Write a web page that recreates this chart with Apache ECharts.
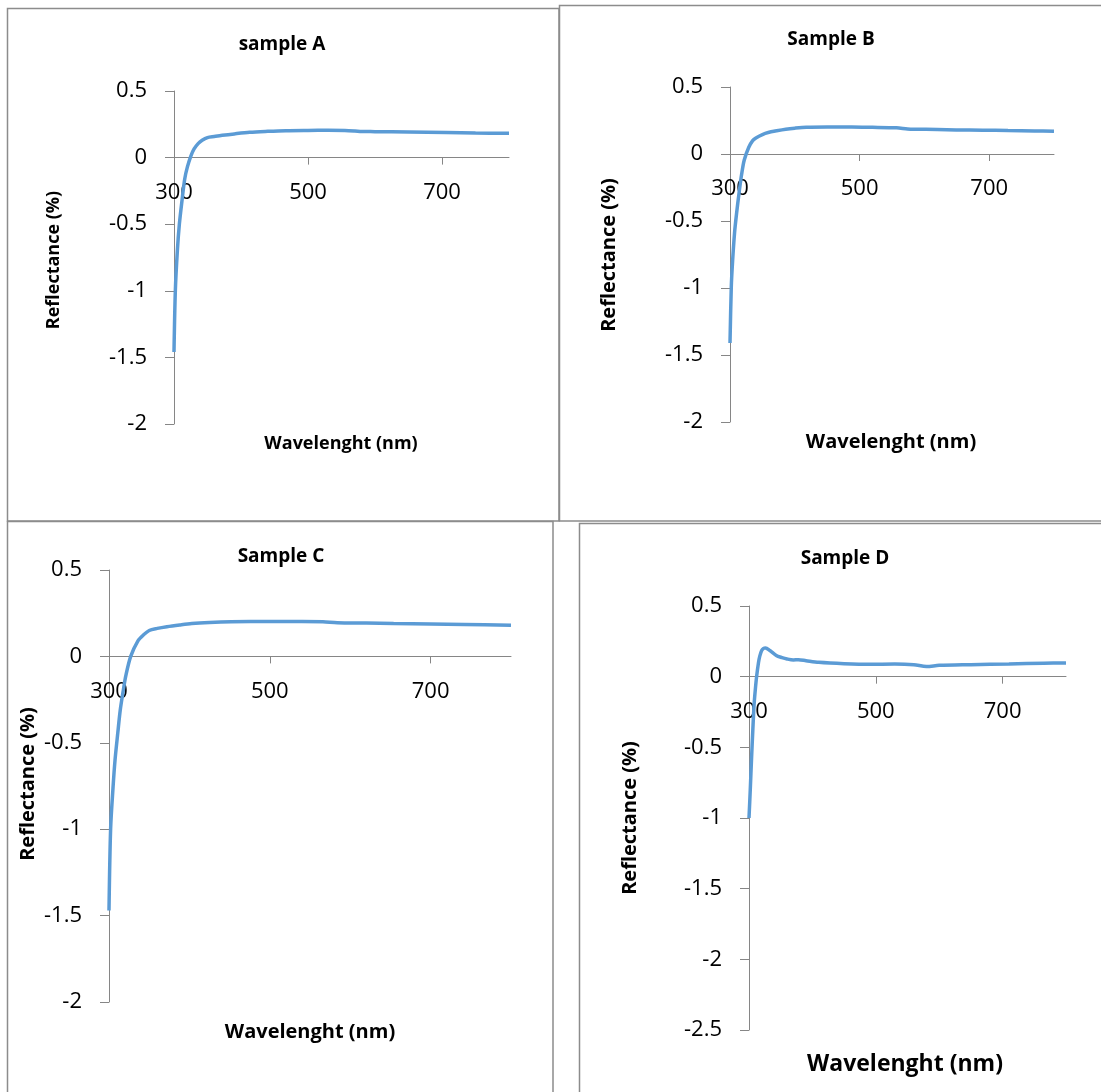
<!DOCTYPE html>
<html>
<head>
<meta charset="utf-8">
<script src="https://cdn.jsdelivr.net/npm/echarts@6/dist/echarts.min.js"></script>
<style>
  html, body { margin: 0; padding: 0; background: #ffffff; }
  #chart { width: 1101px; height: 1092px; }
</style>
</head>
<body>
<div id="chart"></div>
<script>
// Reflectance spectra of four samples (wavelength in nm, reflectance in %)
const xTicks = [300, 500, 700];

const wavelengthA = [300, 302, 305, 308, 312, 316, 320, 325, 330, 336, 342, 350, 360, 372, 390, 413, 440, 467, 500, 530, 555, 570, 580, 600, 650, 706, 750, 800];
const reflectanceA = [-1.46, -1.0, -0.7, -0.5, -0.32, -0.16, -0.07, 0.01, 0.065, 0.105, 0.13, 0.15, 0.158, 0.167, 0.178, 0.19, 0.197, 0.202, 0.204, 0.205, 0.204, 0.2, 0.196, 0.195, 0.192, 0.188, 0.184, 0.182];

const wavelengthB = [300, 302, 304, 307, 310, 314, 318, 322, 329, 335, 340, 350, 359, 372, 386, 400, 418, 450, 488, 520, 557, 574, 585, 620, 649, 690, 729, 770, 800];
const reflectanceB = [-1.41, -0.99, -0.8, -0.59, -0.45, -0.29, -0.15, -0.045, 0.05, 0.1, 0.12, 0.145, 0.16, 0.173, 0.185, 0.193, 0.2, 0.202, 0.201, 0.199, 0.195, 0.187, 0.185, 0.183, 0.18, 0.178, 0.175, 0.172, 0.17];

const wavelengthC = [300, 302, 305, 307.5, 311, 314, 318, 321, 327, 336, 343, 350, 360, 372, 388, 403, 425, 452, 500, 540, 566, 584, 620, 654, 700, 742, 800];
const reflectanceC = [-1.47, -1.0, -0.76, -0.6, -0.44, -0.31, -0.19, -0.11, 0.0, 0.09, 0.125, 0.15, 0.162, 0.172, 0.182, 0.19, 0.196, 0.2, 0.202, 0.202, 0.2, 0.195, 0.193, 0.19, 0.188, 0.185, 0.18];

const wavelengthD = [300, 302, 304, 306, 308, 310, 312, 315, 317, 320, 323, 326, 333, 343, 352, 360, 370, 378, 390, 410, 450, 490, 530, 560, 580, 600, 650, 710, 765, 800];
const reflectanceD = [-1.0, -0.8, -0.58, -0.38, -0.2, -0.09, 0.0, 0.1, 0.145, 0.185, 0.2, 0.203, 0.185, 0.15, 0.135, 0.125, 0.118, 0.12, 0.113, 0.102, 0.092, 0.087, 0.09, 0.085, 0.072, 0.08, 0.085, 0.09, 0.095, 0.097];

const panelTitles = ['sample A', 'Sample B', 'Sample C', 'Sample D'];
const xAxisTitle = 'Wavelenght (nm)';
const yAxisTitle = 'Reflectance (%)';
const yMins = [-2, -2, -2, -2.5];
const yMax = 0.5;

const panels = [
  { wl: wavelengthA, r: reflectanceA, grid: { left: 174, top: 91, width: 335, height: 333 } },
  { wl: wavelengthB, r: reflectanceB, grid: { left: 730, top: 87, width: 324, height: 335 } },
  { wl: wavelengthC, r: reflectanceC, grid: { left: 109, top: 570, width: 402, height: 432 } },
  { wl: wavelengthD, r: reflectanceD, grid: { left: 749, top: 606, width: 317, height: 424 } }
];

const FONT = '"Open Sans", "Noto Sans", sans-serif';
const AXIS_GREY = '#868686';
const FRAME_GREY = '#8c8c8c';

const grids = panels.map(p => Object.assign({ containLabel: false }, p.grid));

// the category axis sits on the zero line: shift it up from the grid bottom
const xAxes = panels.map((p, i) => ({
  type: 'value',
  gridIndex: i,
  min: 300,
  max: 800,
  position: 'bottom',
  offset: -p.grid.height * (0 - yMins[i]) / (yMax - yMins[i]),
  axisLine: { show: true, onZero: false, lineStyle: { color: AXIS_GREY, width: 1 } },
  axisTick: { show: true, customValues: xTicks, length: 7, lineStyle: { color: AXIS_GREY } },
  axisLabel: { customValues: xTicks, fontSize: 22, color: '#000', margin: 24, fontFamily: FONT },
  splitLine: { show: false }
}));

const yAxes = panels.map((p, i) => ({
  type: 'value',
  gridIndex: i,
  min: yMins[i],
  max: yMax,
  interval: 0.5,
  axisLine: { show: true, onZero: false, lineStyle: { color: AXIS_GREY, width: 1 } },
  axisTick: { show: true, length: 9, lineStyle: { color: AXIS_GREY } },
  axisLabel: { fontSize: 22, color: '#000', margin: 27, fontFamily: FONT },
  splitLine: { show: false }
}));

const series = panels.map((p, i) => ({
  type: 'line',
  xAxisIndex: i,
  yAxisIndex: i,
  data: p.wl.map((w, k) => [w, p.r[k]]),
  showSymbol: false,
  smooth: 0.3,
  lineStyle: { color: '#5b9bd5', width: 3.5 },
  silent: true,
  z: 3
}));

// panel frames
const frames = [
  { x: 7.5, y: 8.5, w: 551.5, h: 512.5 },
  { x: 559.5, y: 5.5, w: 560, h: 515.5 },
  { x: 7.5, y: 521.5, w: 545.5, h: 600 },
  { x: 579.5, y: 523.5, w: 560, h: 600 }
];

// text placements: [x, y, font size] for panel title, x-axis title, y-axis title
const titleSpots = [
  { t: [282, 45, 19], xt: [341, 444, 18], yt: [54, 260, 18] },
  { t: [831, 40, 19], xt: [891, 442, 20], yt: [609, 255, 20] },
  { t: [281, 557, 19], xt: [310, 1032, 20], yt: [28, 784, 20] },
  { t: [845, 559, 19], xt: [905, 1064, 23], yt: [630, 818, 20] }
];

const graphics = [];
frames.forEach(f => {
  graphics.push({
    type: 'rect', silent: true, z: 0,
    shape: { x: f.x, y: f.y, width: f.w, height: f.h },
    style: { fill: null, stroke: FRAME_GREY, lineWidth: 1.5 }
  });
});
titleSpots.forEach((s, i) => {
  graphics.push({
    type: 'text', silent: true, x: s.t[0], y: s.t[1],
    style: { text: panelTitles[i], font: 'bold ' + s.t[2] + 'px ' + FONT, fill: '#000', align: 'center', verticalAlign: 'middle' }
  });
  graphics.push({
    type: 'text', silent: true, x: s.xt[0], y: s.xt[1],
    style: { text: xAxisTitle, font: 'bold ' + s.xt[2] + 'px ' + FONT, fill: '#000', align: 'center', verticalAlign: 'middle' }
  });
  graphics.push({
    type: 'text', silent: true, x: s.yt[0], y: s.yt[1], rotation: Math.PI / 2,
    style: { text: yAxisTitle, font: 'bold ' + s.yt[2] + 'px ' + FONT, fill: '#000', align: 'center', verticalAlign: 'middle' }
  });
});

const chart = echarts.init(document.getElementById('chart'), null, { renderer: 'canvas' });
chart.setOption({
  animation: false,
  backgroundColor: '#ffffff',
  grid: grids,
  xAxis: xAxes,
  yAxis: yAxes,
  series: series,
  graphic: graphics
});
</script>
</body>
</html>
